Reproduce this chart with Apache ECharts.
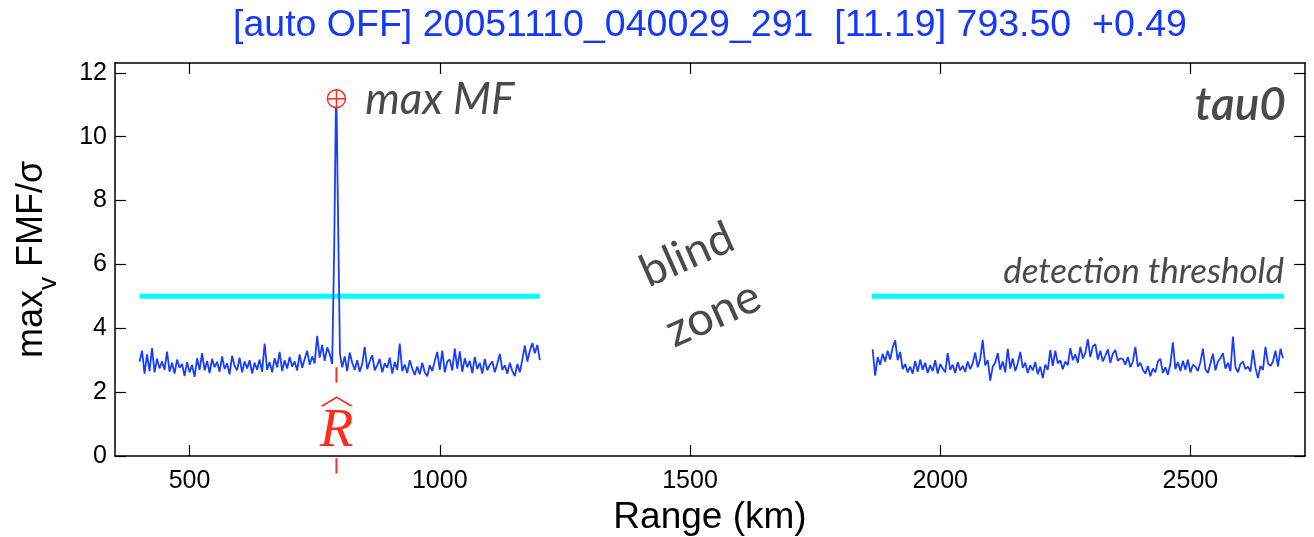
<!DOCTYPE html>
<html>
<head>
<meta charset="utf-8">
<script src="https://cdn.jsdelivr.net/npm/echarts@6/dist/echarts.min.js"></script>
<style>
  html, body { margin: 0; padding: 0; background: #fff; }
  #chart { width: 1314px; height: 537px; }
</style>
</head>
<body>
<div id="chart"></div>
<script>
// ---- data ----
const titleText = '[auto OFF] 20051110_040029_291  [11.19] 793.50  +0.49';
const xTickValues = [500, 1000, 1500, 2000, 2500];
const yTickValues = [0, 2, 4, 6, 8, 10, 12];
const xRangeKm = [351, 2729];
const yRange = [0, 12.309];

const stepKm = 5;

// near-range block, before the detection
const leftStartKm = 400;
const leftValues = [
  2.95, 3.30, 2.58, 3.18, 2.66, 3.38, 2.62, 3.05, 2.74, 2.96,
  2.70, 3.27, 2.64, 2.92, 2.58, 3.02, 2.76, 2.88, 2.50, 2.94,
  2.62, 2.85, 2.48, 3.06, 2.70, 3.22, 2.68, 2.98, 2.60, 3.04,
  2.78, 2.95, 2.64, 3.12, 2.72, 2.90, 2.56, 3.14, 2.82, 2.68,
  3.08, 2.62, 2.96, 2.74, 3.00, 2.58, 2.92, 2.70, 3.02, 2.64,
  3.52, 2.70, 2.94, 2.62, 3.06, 2.78, 3.26, 2.66, 3.00, 2.74,
  3.10, 2.80, 2.96, 2.68, 3.18, 2.76, 3.04, 3.30, 2.86, 3.12,
  2.90, 3.76, 3.08, 3.48, 2.98, 3.40, 3.20, 2.88
];

// the detection peak
const peakKm = [787.5, 789, 792.5, 793.5, 800.5];
const peakValues = [2.90, 6.50, 11.05, 11.19, 3.20];

// near-range block, after the detection
const afterPeakStartKm = 805;
const afterPeakValues = [
  2.78, 3.12, 2.66, 3.24, 2.92, 2.70, 3.00, 2.64, 2.88, 3.42,
  2.72, 2.96, 3.16, 2.68, 2.84, 3.04, 2.62, 2.90, 2.76, 3.08,
  2.58, 2.94, 2.70, 3.52, 2.66, 2.86, 2.60, 3.00, 2.74, 2.54,
  2.80, 2.56, 2.92, 2.62, 2.50, 2.84, 2.66, 2.98, 3.26, 2.70,
  3.30, 2.62, 2.96, 3.02, 2.68, 3.36, 2.74, 3.28, 2.64, 3.06,
  2.78, 2.98, 2.60, 3.10, 2.72, 2.92, 2.58, 3.04, 2.68, 2.86,
  2.96, 2.62, 2.90, 3.20, 2.70, 2.84, 2.58, 2.92, 2.66, 2.50,
  2.88, 2.62, 3.02, 3.46, 2.96, 3.30, 3.54, 3.22, 3.48, 3.00
];

// far-range block
const rightStartKm = 1865;
const rightValues = [
  3.34, 2.52, 3.10, 2.86, 3.20, 2.96, 3.30, 3.02, 3.40, 3.62,
  3.00, 3.26, 2.72, 2.88, 2.62, 2.80, 2.58, 2.98, 2.64, 3.02,
  2.70, 2.92, 2.60, 2.84, 2.66, 3.00, 2.58, 2.88, 2.74, 2.62,
  3.22, 2.70, 2.86, 2.60, 2.94, 2.68, 2.82, 2.64, 2.96, 2.72,
  2.90, 3.24, 2.78, 3.04, 3.64, 2.84, 3.00, 2.36, 2.80, 2.92,
  3.22, 2.70, 2.96, 2.62, 3.36, 2.74, 3.06, 2.66, 2.90, 3.26,
  2.76, 2.92, 2.60, 2.84, 2.68, 2.94, 2.56, 2.80, 2.44, 2.86,
  2.70, 3.32, 2.82, 3.30, 2.90, 3.00, 2.72, 2.96, 2.84, 3.38,
  3.00, 3.18, 2.92, 3.42, 3.06, 3.22, 3.66, 3.10, 3.44, 3.50,
  3.02, 3.30, 2.96, 3.14, 3.34, 2.92, 3.20, 3.32, 2.98, 3.06,
  3.04, 2.86, 3.10, 2.78, 2.96, 3.42, 2.80, 2.92, 2.70, 2.58,
  2.82, 2.50, 2.74, 2.62, 2.96, 3.04, 2.60, 2.78, 2.54, 2.88,
  3.56, 2.72, 2.94, 2.66, 2.98, 2.70, 3.02, 2.62, 2.86, 2.80,
  2.66, 2.94, 3.36, 2.72, 2.60, 2.90, 3.20, 2.68, 2.96, 3.06,
  3.22, 2.74, 2.92, 2.66, 3.74, 2.78, 2.62, 2.88, 2.96, 2.72,
  2.80, 2.64, 3.32, 2.76, 2.44, 2.82, 2.70, 3.42, 2.90, 2.82,
  2.96, 3.30, 2.80, 3.36, 3.06
];

const thresholdValue = 5;
const thresholdSpansKm = [[400, 1200], [1863, 2687]];

const maxKm = 793.5;
const maxValue = 11.19;

// ---- styling ----
const BLUE = '#1a3cff';
const CYAN = '#00ffff';
const RED = '#ff2d1e';
const NOTE_GREY = '#4a4a4a';
const SANS = 'Liberation Sans, Arial, sans-serif';
const NOTE_FONT = 'Lato, "Open Sans", sans-serif';
const SOLID = { color: 'rgba(0,0,0,0)', opacity: 1 };

const toPoints = (startKm, values) => values.map((v, i) => [startKm + i * stepKm, v]);
const nearLine = toPoints(leftStartKm, leftValues)
  .concat(peakKm.map((k, i) => [k, peakValues[i]]))
  .concat(toPoints(afterPeakStartKm, afterPeakValues));
const farLine = toPoints(rightStartKm, rightValues);

const plainNumber = (v) => String(v);

const frameAxis = {
  axisLine: { show: true, onZero: false, lineStyle: { color: '#000', width: 1.5 } },
  axisTick: { show: true, inside: true, length: 11, lineStyle: { color: '#000', width: 1.2 } },
  splitLine: { show: false }
};

// text notes placed in data coordinates
const notes = [
  { at: [851, 11.16], text: 'max MF', align: 'left', size: 44, italic: true },
  { at: [2691, 11.0], text: 'tau0', align: 'right', size: 46, italic: true, weight: 600 },
  { at: [2687, 5.78], text: 'detection threshold', align: 'right', size: 35, italic: true },
  { at: [1494, 6.3], text: 'blind', align: 'center', size: 45, rotate: 24 },
  { at: [1546, 4.45], text: 'zone', align: 'center', size: 47, rotate: 24 }
];

const chart = echarts.init(document.getElementById('chart'), null, { renderer: 'canvas' });

chart.setOption({
  animation: false,
  backgroundColor: '#fff',
  grid: { left: 115, right: 9, top: 63, bottom: 81, containLabel: false, outerBoundsMode: 'none' },
  xAxis: [
    Object.assign({}, frameAxis, {
      type: 'value', position: 'bottom', min: xRangeKm[0], max: xRangeKm[1],
      axisTick: Object.assign({}, frameAxis.axisTick, { customValues: xTickValues }),
      axisLabel: { customValues: xTickValues, formatter: plainNumber, color: '#000', fontFamily: SANS, fontSize: 25, margin: 13 },
      name: 'Range (km)', nameLocation: 'middle', nameGap: 42,
      nameTextStyle: { color: '#000', fontFamily: SANS, fontSize: 37 }
    }),
    Object.assign({}, frameAxis, {
      type: 'value', position: 'top', min: xRangeKm[0], max: xRangeKm[1],
      axisTick: Object.assign({}, frameAxis.axisTick, { customValues: xTickValues }),
      axisLabel: { show: false },
      name: titleText, nameLocation: 'middle', nameGap: 18,
      nameTextStyle: { color: '#1538ff', fontFamily: SANS, fontSize: 37.5 }
    })
  ],
  yAxis: [
    Object.assign({}, frameAxis, {
      type: 'value', position: 'left', min: yRange[0], max: yRange[1],
      axisTick: Object.assign({}, frameAxis.axisTick, { customValues: yTickValues }),
      axisLabel: { customValues: yTickValues, formatter: plainNumber, color: '#000', fontFamily: SANS, fontSize: 25, margin: 8 },
      name: '{a|max}{b|v}{a| FMF/σ}', nameLocation: 'middle', nameGap: 53, nameRotate: 90,
      nameTextStyle: {
        color: '#000', fontFamily: SANS, fontSize: 36,
        rich: {
          a: { fontFamily: SANS, fontSize: 36, color: '#000' },
          b: { fontFamily: SANS, fontSize: 26, color: '#000', padding: [34, 0, 0, 0] }
        }
      }
    }),
    Object.assign({}, frameAxis, {
      type: 'value', position: 'right', min: yRange[0], max: yRange[1],
      axisTick: Object.assign({}, frameAxis.axisTick, { customValues: yTickValues }),
      axisLabel: { show: false }
    })
  ],
  series: [
    ...thresholdSpansKm.map((span) => ({
      type: 'line', silent: true, symbol: 'none', z: 2,
      data: [[span[0], thresholdValue], [span[1], thresholdValue]],
      lineStyle: { color: CYAN, width: 5 }
    })),
    {
      name: 'near', type: 'line', silent: true, symbol: 'none', z: 3,
      data: nearLine, lineStyle: { color: BLUE, width: 1.8 }
    },
    {
      name: 'far', type: 'line', silent: true, symbol: 'none', z: 3,
      data: farLine, lineStyle: { color: BLUE, width: 1.8 }
    },
    // range marker under the detection, continuing below the axis
    {
      type: 'line', silent: true, symbol: 'none', clip: false, z: 4,
      data: [[maxKm, 2.78], [maxKm, 2.30]], lineStyle: { color: RED, width: 2 }
    },
    {
      type: 'line', silent: true, symbol: 'none', clip: false, z: 4,
      data: [[maxKm, -0.07], [maxKm, -0.55]], lineStyle: { color: RED, width: 2 }
    },
    // R-hat label: hat drawn as a chevron symbol, letter as text
    {
      type: 'scatter', silent: true, z: 5, clip: false,
      data: [[maxKm + 0.5, 1.7]],
      symbol: 'path://M0,10L10,0L20,10', symbolSize: [30, 9],
      itemStyle: { color: 'rgba(0,0,0,0)', opacity: 1, borderColor: RED, borderWidth: 1.5 }
    },
    {
      type: 'scatter', silent: true, z: 5, clip: false,
      data: [[maxKm, 0.78]], symbolSize: 0.1, itemStyle: SOLID,
      label: {
        show: true, position: 'inside', formatter: 'R', color: RED,
        fontFamily: '"Liberation Serif", "DejaVu Serif", serif', fontStyle: 'italic', fontSize: 55,
        align: 'center', verticalAlign: 'middle'
      }
    },
    // maximum of the matched filter output
    {
      type: 'scatter', silent: true, z: 6,
      data: [[maxKm, maxValue]],
      symbol: 'path://M20,10A10,10,0,1,1,0,10A10,10,0,1,1,20,10ZM10,0L10,20M0,10L20,10',
      symbolSize: 18,
      itemStyle: { color: '#fff', opacity: 1, borderColor: RED, borderWidth: 1.5 }
    },
    {
      type: 'scatter', silent: true, z: 7,
      symbolSize: 0.1, itemStyle: SOLID,
      data: notes.map((n) => ({
        value: n.at,
        label: {
          show: true, position: 'inside', formatter: n.text,
          color: NOTE_GREY, fontFamily: NOTE_FONT, fontSize: n.size,
          fontStyle: n.italic ? 'italic' : 'normal', fontWeight: n.weight || 'normal',
          align: n.align, verticalAlign: 'middle', rotate: n.rotate || 0
        }
      }))
    }
  ]
});
</script>
</body>
</html>
